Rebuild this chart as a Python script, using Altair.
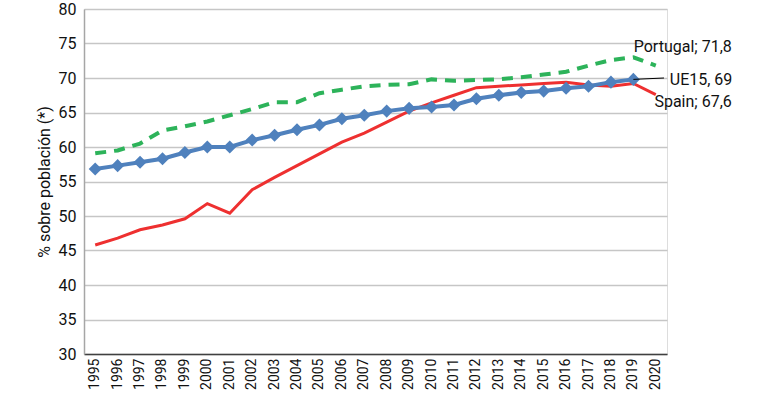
import altair as alt
import pandas as pd

years = [str(y) for y in range(1995, 2021)]
ue15 = [56.8, 57.3, 57.8, 58.3, 59.2, 60.0, 60.0, 61.0, 61.7, 62.5, 63.2, 64.1, 64.6, 65.2,
        65.6, 65.8, 66.1, 67.0, 67.5, 67.9, 68.1, 68.5, 68.8, 69.4, 69.8]
spain = [45.8, 46.8, 48.0, 48.7, 49.6, 51.8, 50.4, 53.8, 55.6, 57.3, 59.0, 60.7, 62.0, 63.6,
         65.2, 66.4, 67.5, 68.6, 68.8, 69.0, 69.2, 69.4, 69.0, 68.8, 69.2, 67.6]
portugal = [59.1, 59.5, 60.5, 62.4, 63.0, 63.7, 64.6, 65.5, 66.5, 66.5, 67.8, 68.3, 68.8, 69.0,
            69.1, 69.8, 69.6, 69.7, 69.8, 70.1, 70.5, 70.9, 71.8, 72.6, 73.0, 71.8]

label_text = ["Portugal; 71,8", "UE15, 69", "Spain; 67,6"]
label_year = ["2020", "2020", "2020"]
label_value = [71.8, 69.8, 67.6]
label_align = ["right", "left", "right"]
label_dx = [76, 14, 76]
label_dy = [-19, 1, 7]
y_ticks = list(range(30, 81, 5))

FONT = "Roboto"

df_ue = pd.DataFrame({"year": years[:len(ue15)], "value": ue15})
df_es = pd.DataFrame({"year": years, "value": spain})
df_pt = pd.DataFrame({"year": years, "value": portugal})

xenc = alt.X("year:O", sort=years, scale=alt.Scale(domain=years),
             axis=alt.Axis(title=None, labelAngle=-90, labelFontSize=14, labelFont=FONT,
                           labelColor="#111", domainColor="#404040", domainWidth=1.5,
                           ticks=False, labelPadding=4, grid=False, labelBaseline="middle",
                           labelOverlap=False))
yenc = alt.Y("value:Q", scale=alt.Scale(domain=[30, 80], nice=False, zero=False),
             axis=alt.Axis(title="% sobre población (*)", values=y_ticks,
                           titleFont=FONT, titleFontSize=16, titleFontWeight="normal",
                           titleColor="#111", titlePadding=6, labelOverlap=False,
                           labelFont=FONT, labelFontSize=16, labelColor="#111", labelPadding=8,
                           ticks=False, domainColor="#a6a6a6", domainWidth=1.5,
                           gridColor="#c6c6c6", gridWidth=1.5))

spain_line = alt.Chart(df_es).mark_line(color="#ee3030", strokeWidth=3).encode(x=xenc, y=yenc)
pt_line = alt.Chart(df_pt).mark_line(color="#2db35a", strokeWidth=4, strokeDash=[11, 8]).encode(
    x=xenc, y=yenc)
ue_line = alt.Chart(df_ue).mark_line(color="#4f81bd", strokeWidth=4).encode(x=xenc, y=yenc)
ue_pts = alt.Chart(df_ue).mark_point(shape="diamond", filled=True, color="#4f81bd",
                                     size=170, opacity=1).encode(x=xenc, y=yenc)

leader = alt.Chart(pd.DataFrame({"year": ["2019"], "value": [69.8]})).mark_rule(
    color="black", strokeWidth=1).encode(x=xenc, y=yenc, x2=alt.value(580), y2=alt.value(69))

labels = []
for t, yv, v, al, dx, dy in zip(label_text, label_year, label_value, label_align, label_dx, label_dy):
    labels.append(alt.Chart(pd.DataFrame({"year": [yv], "value": [v], "t": [t]})).mark_text(
        align=al, baseline="middle", dx=dx, dy=dy, font=FONT, fontSize=16, color="#111").encode(
        x=xenc, y=yenc, text="t:N"))

chart = alt.layer(spain_line, pt_line, ue_line, ue_pts, leader, *labels).properties(
    width=583, height=345,
    autosize=alt.AutoSizeParams(type="none"),
    padding={"left": 84, "top": 9, "right": 101, "bottom": 40},
).configure_view(stroke=None).configure(background="white")

chart.save("out.html", embed_options={"renderer": "svg", "actions": False})
